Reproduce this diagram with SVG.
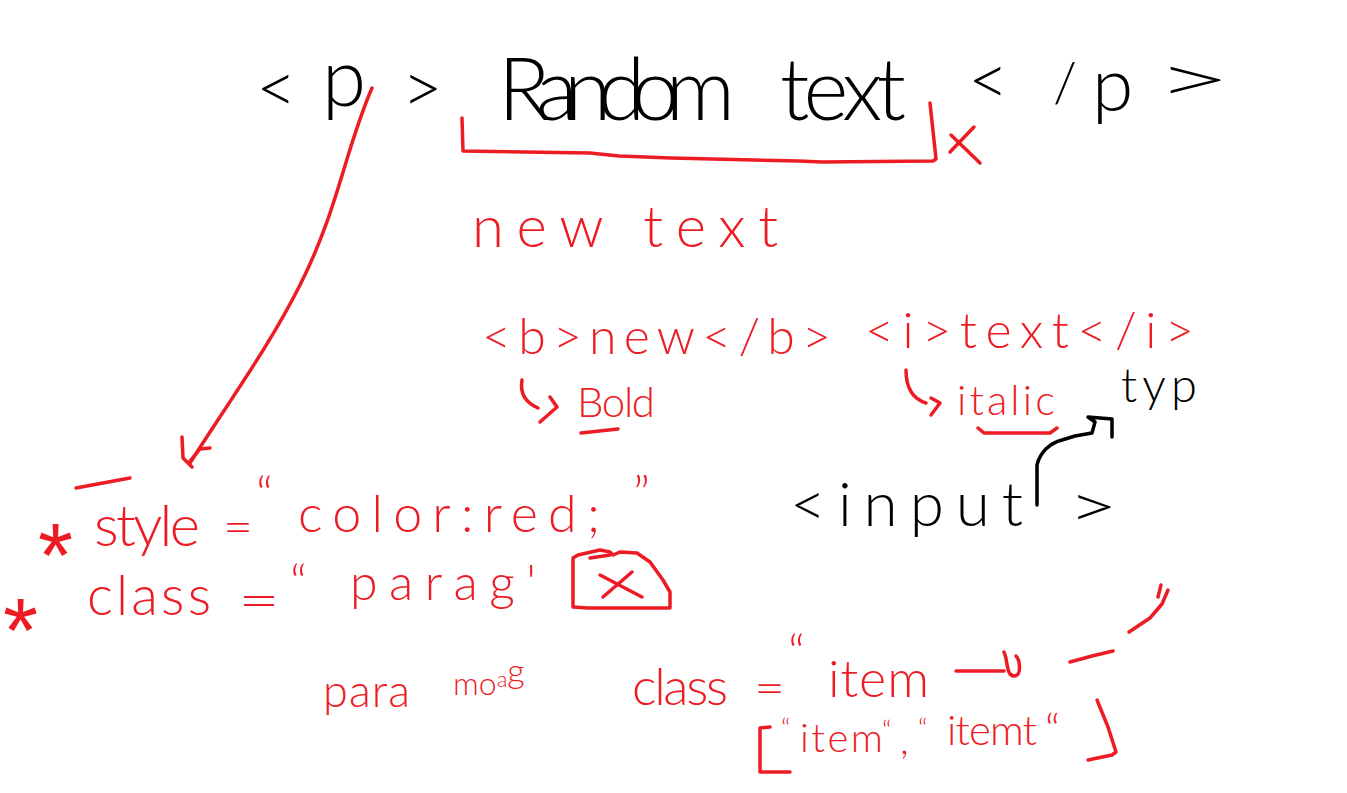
<svg xmlns="http://www.w3.org/2000/svg" width="1347" height="793" viewBox="0 0 1347 793">
<style>
text{font-family:Lato,"Liberation Sans",sans-serif;font-weight:300}
.k{fill:#000}
.r{fill:#ED1C24}
.ast{font-family:"Liberation Sans",sans-serif;font-weight:400}
.sr{fill:none;stroke:#ED1C24;stroke-width:3.5;stroke-linecap:round;stroke-linejoin:round}
.sk{fill:none;stroke:#000;stroke-width:3.5;stroke-linecap:round;stroke-linejoin:round}
</style>
<rect width="1347" height="793" fill="#fff"/>

<g id="p-open">
<text class="k" x="256" y="113" font-size="70">&lt;</text>
<text class="k" x="322" y="106" font-size="80">p</text>
<text class="k" x="402" y="113" font-size="70">&gt;</text>
</g>

<g id="random-text">
<text class="k" x="498" y="120" font-size="86" textLength="237" lengthAdjust="spacing">Random</text>
<text class="k" x="780" y="120" font-size="86" textLength="126" lengthAdjust="spacing">text</text>
<path class="sr" d="M462,118 L463,151 L590,153 L619,156 L671,158 L799,161 L822,162 L933,161 L936,159 L930,103"/>
<path class="sr" d="M951,135 L980,163 M974,127 L950,152"/>
</g>

<g id="p-close">
<text class="k" x="968" y="105" font-size="70">&lt;</text>
<text class="k" x="1053" y="102" font-size="55">/</text>
<text class="k" x="1092" y="111" font-size="75">p</text>
<text class="k" x="1155" y="102" font-size="65" textLength="77" lengthAdjust="spacingAndGlyphs">&gt;</text>
</g>

<g id="new-text">
<text class="r" x="472" y="247" font-size="58" textLength="306" lengthAdjust="spacing">new text</text>
</g>

<g id="tags-line">
<text class="r" x="482" y="354" font-size="50" textLength="349" lengthAdjust="spacing">&lt;b&gt;new&lt;/b&gt;</text>
<text class="r" x="865" y="348" font-size="50" textLength="329" lengthAdjust="spacing">&lt;i&gt;text&lt;/i&gt;</text>
</g>

<g id="bold">
<text class="r" x="577" y="417" font-size="42" textLength="78" lengthAdjust="spacing">Bold</text>
<path class="sr" d="M581,433 L618,429"/>
</g>

<g id="italic">
<text class="r" x="957" y="415" font-size="42" textLength="98" lengthAdjust="spacing">italic</text>
<path class="sr" d="M978,428 L984,433 L1050,433 L1057,428"/>
</g>

<g id="typ">
<text class="k" x="1121" y="402" font-size="47" textLength="76" lengthAdjust="spacing">typ</text>
</g>

<g id="input">
<text class="k" x="790" y="526" font-size="62" textLength="233" lengthAdjust="spacing">&lt;input</text>
<text class="k" x="1068" y="527" font-size="60" textLength="50" lengthAdjust="spacingAndGlyphs">&gt;</text>
</g>

<g id="style-attr">
<path class="sr" d="M76,488 L130,478"/>
<text class="r ast" x="38" y="587" font-size="90">*</text>
<text class="r" x="94" y="546" font-size="58" textLength="106" lengthAdjust="spacing">style</text>
<text class="r" x="223" y="543" font-size="48" textLength="30" lengthAdjust="spacingAndGlyphs">=</text>
<text class="r" x="256" y="512" font-size="50">“</text>
<text class="r" x="298" y="532" font-size="52" textLength="302" lengthAdjust="spacing">color:red;</text>
<text class="r" x="633" y="512" font-size="50">”</text>
</g>

<g id="class-attr">
<text class="r ast" x="3" y="662" font-size="90">*</text>
<text class="r" x="87" y="615" font-size="55" textLength="124" lengthAdjust="spacing">class</text>
<text class="r" x="238" y="618" font-size="52" textLength="42" lengthAdjust="spacingAndGlyphs">=</text>
<text class="r" x="290" y="600" font-size="50">“</text>
<text class="r" x="350" y="600" font-size="50" textLength="186" lengthAdjust="spacing">parag'</text>
<path class="sr" d="M573,607 L573,558 L578,555 L600,550 L610,552 L613,555 L620,552 L637,553 L650,562 L663,580 L670,592 L670,608 L588,608 Z"/>
<path class="sr" d="M590,558 L610,555 M600,575 L642,597 M632,572 L603,597"/>
</g>

<g id="para">
<text class="r" x="323" y="707" font-size="45" textLength="87" lengthAdjust="spacing">para</text>
<text class="r" x="453" y="695" font-size="32">mo<tspan font-size="22" dy="-8">a</tspan><tspan font-size="34" dy="-4">g</tspan></text>
</g>

<g id="class-item">
<text class="r" x="632" y="705" font-size="52" textLength="96" lengthAdjust="spacing">class</text>
<text class="r" x="754" y="704" font-size="45" textLength="31" lengthAdjust="spacingAndGlyphs">=</text>
<text class="r" x="788" y="670" font-size="50">“</text>
<text class="r" x="828" y="697" font-size="52" textLength="101" lengthAdjust="spacing">item</text>
<path class="sr" d="M956,671 L1004,671 M1004,652 C1008,660 1006,676 1014,676 C1022,676 1020,660 1016,656"/>
<path class="sr" d="M1070,662 L1092,656 L1113,651 M1129,632 L1150,618 L1162,604 L1168,590 M1161,585 L1158,597"/>
</g>

<g id="item-list">
<path class="sr" d="M770,727 L760,728 L760,772 L790,772"/>
<text class="r" x="781" y="738" font-size="28">“</text>
<text class="r" x="800" y="752" font-size="40" textLength="83" lengthAdjust="spacing">item</text>
<text class="r" x="882" y="740" font-size="28">“</text>
<text class="r" x="900" y="754" font-size="40">,</text>
<text class="r" x="918" y="738" font-size="28">“</text>
<text class="r" x="947" y="745" font-size="42" textLength="90" lengthAdjust="spacing">itemt</text>
<text class="r" x="1045" y="745" font-size="44">“</text>
<path class="sr" d="M1097,700 L1108,727 L1116,752 L1112,755 L1088,760"/>
</g>

<g id="connectors">
<path class="sr" d="M372,88 C345,150 338,210 300,285 C270,345 230,400 190,463"/>
<path class="sr" d="M182,437 L183,458 L192,467 M210,448 L200,449 L190,461"/>
<path class="sr" d="M522,380 C520,392 524,402 538,408 M550,397 L557,407 L540,422"/>
<path class="sr" d="M906,370 C906,385 910,398 926,403 M931,398 L940,403 L931,415"/>
<path class="sk" d="M1037,505 L1037,465 C1040,452 1050,443 1062,440 L1075,436 L1092,433 L1095,422 L1088,417 L1112,419 L1112,437"/>
</g>
</svg>
